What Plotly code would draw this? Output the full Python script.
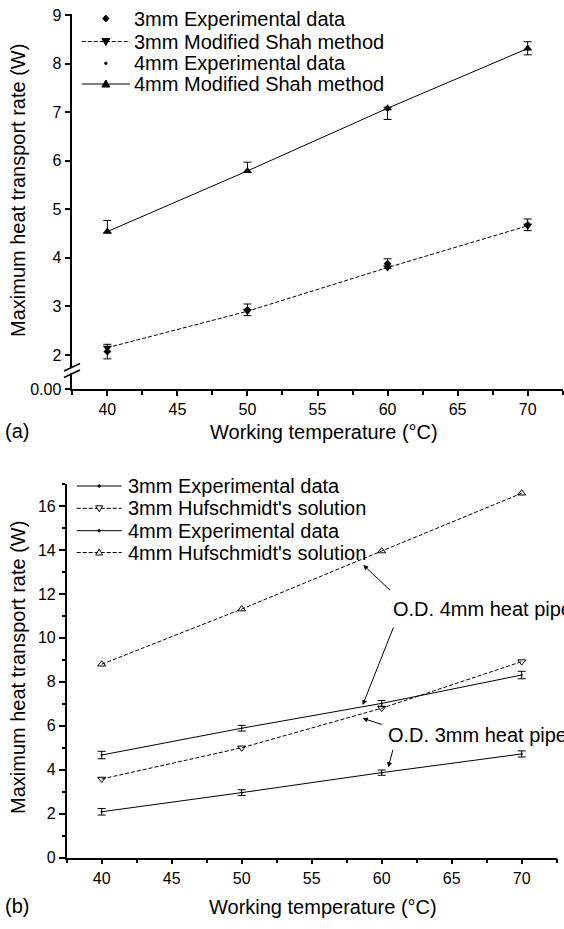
import plotly.graph_objects as go

W, H = 564, 929
FONT = "Arial, 'Liberation Sans', sans-serif"

# ---------------- data ----------------
temps = [40, 50, 60, 70]

# panel (a)
a_exp3 = [2.07, 2.93, 3.88, 4.68]
a_exp3_err = [0.15, 0.12, 0.10, 0.12]
a_shah3 = [2.15, 2.90, 3.80, 4.66]
a_exp4 = [4.55, 5.79, 7.05, 8.32]
a_exp4_err_plus = [0.22, 0.18, 0.05, 0.13]
a_exp4_err_minus = [0.04, 0.03, 0.20, 0.14]
a_shah4 = [4.54, 5.79, 7.08, 8.31]
a_names = ["3mm Experimental data", "3mm Modified Shah method",
           "4mm Experimental data", "4mm Modified Shah method"]

# panel (b)
b_exp3 = [2.09, 2.96, 3.87, 4.72]
b_exp3_err = [0.15, 0.13, 0.12, 0.14]
b_huf3 = [3.58, 5.00, 6.80, 8.92]
b_exp4 = [4.67, 5.89, 7.02, 8.31]
b_exp4_err = [0.17, 0.13, 0.13, 0.17]
b_huf4 = [8.80, 11.31, 13.95, 16.58]
b_names = ["3mm Experimental data", "3mm Hufschmidt's solution",
           "4mm Experimental data", "4mm Hufschmidt's solution"]

x_title = "Working temperature (°C)"
y_title = "Maximum heat transport rate (W)"
ann_4mm = "O.D. 4mm heat pipe"
ann_3mm = "O.D. 3mm heat pipe"


def fx(px):
    return px / W


def fy(py):
    return 1 - py / H


fig = go.Figure()
DASH = "4px,2px"
ebar = dict(color="black", thickness=1, width=4)

# ---- panel (a) traces ----
fig.add_trace(go.Scatter(x=temps, y=a_shah3, mode="lines+markers", name=a_names[1],
                         line=dict(color="black", width=1, dash=DASH),
                         marker=dict(symbol="triangle-down", size=8, color="black"),
                         xaxis="x", yaxis="y", showlegend=False))
fig.add_trace(go.Scatter(x=temps, y=a_exp3, mode="markers", name=a_names[0],
                         marker=dict(symbol="diamond", size=6, color="black"),
                         error_y=dict(type="data", array=a_exp3_err, **ebar),
                         xaxis="x", yaxis="y", showlegend=False))
fig.add_trace(go.Scatter(x=temps, y=a_shah4, mode="lines+markers", name=a_names[3],
                         line=dict(color="black", width=1),
                         marker=dict(symbol="triangle-up", size=8, color="black"),
                         xaxis="x", yaxis="y", showlegend=False))
fig.add_trace(go.Scatter(x=temps, y=a_exp4, mode="markers", name=a_names[2],
                         marker=dict(symbol="circle", size=3, color="black"),
                         error_y=dict(type="data", symmetric=False, array=a_exp4_err_plus,
                                      arrayminus=a_exp4_err_minus, **ebar),
                         xaxis="x", yaxis="y", showlegend=False))
# stub axis (for the broken-axis "0.00")
fig.add_trace(go.Scatter(x=[], y=[], xaxis="x", yaxis="y3", showlegend=False))

# ---- panel (b) traces ----
fig.add_trace(go.Scatter(x=temps, y=b_huf4, mode="lines+markers", name=b_names[3],
                         line=dict(color="black", width=1, dash=DASH),
                         marker=dict(symbol="triangle-up-open", size=7, color="black",
                                     line=dict(width=1)),
                         xaxis="x2", yaxis="y2", showlegend=False))
fig.add_trace(go.Scatter(x=temps, y=b_huf3, mode="lines+markers", name=b_names[1],
                         line=dict(color="black", width=1, dash=DASH),
                         marker=dict(symbol="triangle-down-open", size=7, color="black",
                                     line=dict(width=1)),
                         xaxis="x2", yaxis="y2", showlegend=False))
fig.add_trace(go.Scatter(x=temps, y=b_exp4, mode="lines+markers", name=b_names[2],
                         line=dict(color="black", width=1),
                         marker=dict(symbol="circle", size=2, color="black"),
                         error_y=dict(type="data", array=b_exp4_err, **ebar),
                         xaxis="x2", yaxis="y2", showlegend=False))
fig.add_trace(go.Scatter(x=temps, y=b_exp3, mode="lines+markers", name=b_names[0],
                         line=dict(color="black", width=1),
                         marker=dict(symbol="circle", size=2, color="black"),
                         error_y=dict(type="data", array=b_exp3_err, **ebar),
                         xaxis="x2", yaxis="y2", showlegend=False))

tickfont = dict(family=FONT, size=16, color="black")
axis_common = dict(showline=True, linecolor="black", linewidth=1.5, ticks="outside",
                   tickcolor="black", tickwidth=1.5, showgrid=False, zeroline=False,
                   tickfont=tickfont, automargin=False)

fig.update_layout(
    width=W, height=H, margin=dict(l=0, r=0, t=0, b=0),
    paper_bgcolor="white", plot_bgcolor="rgba(0,0,0,0)",
    font=dict(family=FONT, color="black"),
    xaxis=dict(domain=[fx(72.3), fx(562.7)], range=[37.5, 72.5], anchor="y3",
               tickvals=[40, 45, 50, 55, 60, 65, 70], ticklen=5,
               minor=dict(dtick=2.5, tick0=37.5, ticks="outside", ticklen=4,
                          tickcolor="black", tickwidth=1.5),
               **axis_common),
    yaxis=dict(domain=[fy(366.5), fy(14)], range=[1.763, 9.0206], anchor="x",
               tickvals=[2, 3, 4, 5, 6, 7, 8, 9], ticklen=6, **axis_common),
    yaxis3=dict(domain=[fy(389.3), fy(373)], range=[0, 0.335], anchor="x",
                tickvals=[0], tickformat=".2f", ticklen=6, **axis_common),
    xaxis2=dict(domain=[fx(66.7), fx(556.7)], range=[37.5, 72.5], anchor="y2",
                tickvals=[40, 45, 50, 55, 60, 65, 70], ticklen=5,
                minor=dict(dtick=2.5, tick0=37.5, ticks="outside", ticklen=4,
                           tickcolor="black", tickwidth=1.5),
                **axis_common),
    yaxis2=dict(domain=[fy(857.7), fy(484)], range=[0, 17], anchor="x2",
                tickvals=[0, 2, 4, 6, 8, 10, 12, 14, 16], ticklen=6,
                minor=dict(dtick=1, tick0=0, ticks="outside", ticklen=3,
                           tickcolor="black", tickwidth=1.5),
                **axis_common),
)

annotations = []
shapes = []


def text_ann(txt, px, py, size=20, xanchor="center", angle=0):
    annotations.append(dict(text=txt, x=fx(px), y=fy(py), xref="paper", yref="paper",
                            showarrow=False, xanchor=xanchor, yanchor="middle",
                            textangle=angle, font=dict(family=FONT, size=size, color="black")))


# axis titles and panel labels
text_ann(x_title, 324, 432)
text_ann(x_title, 323, 907)
text_ann(y_title, 18, 191, angle=-90)
text_ann(y_title, 18, 668, angle=-90)
text_ann("(a)", 17, 431)
text_ann("(b)", 17, 906)

# broken-axis marks
for (x0, y0, x1, y1) in [(64, 371, 80, 363.5), (64, 377.5, 80, 370)]:
    shapes.append(dict(type="line", xref="paper", yref="paper", x0=fx(x0), y0=fy(y0),
                       x1=fx(x1), y1=fy(y1), line=dict(color="black", width=1.5)))

# annotations with arrows in panel (b)
text_ann(ann_4mm, 390.5, 609, xanchor="left")
text_ann(ann_3mm, 386, 735, xanchor="left")
for (tx, ty, hx, hy) in [(391.7, 591.7, 363.3, 565), (394, 626, 362.7, 705),
                         (383.3, 725, 362.7, 718.3), (393.3, 748.3, 388.3, 767.3)]:
    annotations.append(dict(text="", x=fx(hx), y=fy(hy), xref="paper", yref="paper",
                            ax=tx - hx, ay=ty - hy, axref="pixel", ayref="pixel",
                            showarrow=True, arrowhead=2, arrowsize=1, arrowwidth=1,
                            arrowcolor="black"))


# ---- hand-built legends ----
def marker_shape(kind, cx, cy, filled=True):
    fill = "black" if filled else "white"
    base = dict(xref="paper", yref="paper", xsizemode="pixel", ysizemode="pixel",
                xanchor=fx(cx), yanchor=fy(cy), fillcolor=fill,
                line=dict(color="black", width=1))
    if kind == "tri-up":
        s = dict(type="path", path="M -4,-3 L 4,-3 L 0,4 Z", **base)
    elif kind == "tri-down":
        s = dict(type="path", path="M -4,3 L 4,3 L 0,-4 Z", **base)
    elif kind == "tri-up-s":
        s = dict(type="path", path="M -3.5,-2.5 L 3.5,-2.5 L 0,3.5 Z", **base)
    elif kind == "tri-down-s":
        s = dict(type="path", path="M -3.5,2.5 L 3.5,2.5 L 0,-3.5 Z", **base)
    elif kind == "diamond":
        s = dict(type="path", path="M 0,3.5 L 3,0 L 0,-3.5 L -3,0 Z", **base)
    else:  # dot
        s = dict(type="circle", x0=-1.2, x1=1.2, y0=-1.2, y1=1.2, **base)
    shapes.append(s)


def legend_row(label, cy, lx0, lx1, tx, line=None, marker=None, filled=True):
    if line is not None:
        shapes.append(dict(type="line", xref="paper", yref="paper", x0=fx(lx0), x1=fx(lx1),
                           y0=fy(cy), y1=fy(cy),
                           line=dict(color="black", width=1, dash=line)))
    if marker is not None:
        marker_shape(marker, (lx0 + lx1) / 2, cy, filled)
    text_ann(label, tx, cy, xanchor="left")


a_rows = [18.5, 41.5, 63.3, 84]
legend_row(a_names[0], a_rows[0], 81.7, 130, 131.5, None, "diamond")
legend_row(a_names[1], a_rows[1], 81.7, 130, 131.5, DASH, "tri-down")
legend_row(a_names[2], a_rows[2], 81.7, 130, 131.5, None, "dot")
legend_row(a_names[3], a_rows[3], 81.7, 130, 131.5, "solid", "tri-up")

b_rows = [486, 508.3, 530.7, 552.5]
legend_row(b_names[0], b_rows[0], 76.7, 121.7, 126, "solid", "dot")
legend_row(b_names[1], b_rows[1], 76.7, 121.7, 126, DASH, "tri-down-s", filled=False)
legend_row(b_names[2], b_rows[2], 76.7, 121.7, 126, "solid", "dot")
legend_row(b_names[3], b_rows[3], 76.7, 121.7, 126, DASH, "tri-up-s", filled=False)

fig.update_layout(annotations=annotations, shapes=shapes)
fig.write_html("out.html")
